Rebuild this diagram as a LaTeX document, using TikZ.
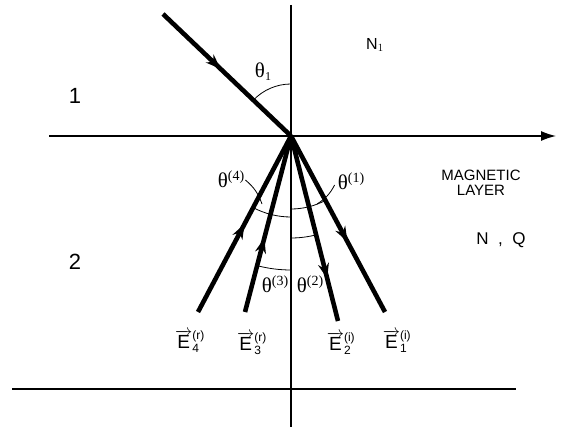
\documentclass[tikz,border=0pt]{standalone}
\usepackage{fontspec}
\setmainfont{Liberation Sans}
\newfontfamily\grk{Liberation Serif}
\usetikzlibrary{arrows.meta,decorations.markings}
\newcommand{\supsz}{\fontsize{12}{13}\selectfont}
\newcommand{\thsup}[1]{{\grk θ\raisebox{7pt}{\fontsize{14}{15}\selectfont(#1)}}}
\tikzset{
  ray/.style={line width=4.6pt},
  thin/.style={line width=1.3pt},
  arc/.style={line width=0.8pt},
  midarrow/.style={postaction={decorate},decoration={markings,
     mark=at position #1 with {\arrow{Stealth[length=15pt,width=11pt]}}}},
  lbl/.style={font=\fontsize{16}{18}\selectfont, inner sep=0pt},
  mg/.style={font=\fontsize{15}{17}\selectfont, inner sep=0pt},
  nq/.style={font=\fontsize{17}{19}\selectfont, inner sep=0pt},
  big/.style={font=\fontsize{22}{24}\selectfont, inner sep=0pt},
  thl/.style={font=\fontsize{21}{23}\selectfont, inner sep=0pt},
  elbl/.style={font=\fontsize{19}{21}\selectfont, inner sep=0pt}
}
\begin{document}
\begin{tikzpicture}[x=1pt,y=-1pt]
\useasboundingbox (0,0) rectangle (569,427);
% axes
\coordinate (O) at (291,136);
\coordinate (Vt) at (291,5);
\coordinate (Vb) at (291,427);
\coordinate (Hl) at (49,136);
\coordinate (Hr) at (556,136);
\coordinate (Bl) at (12,389);
\coordinate (Br) at (516,389);
\draw[thin] (Vt) -- (Vb);
\draw[thin,-{Latex[length=15pt,width=10pt]}] (Hl) -- (Hr);
\draw[thin] (Bl) -- (Br);
% ray ends
\coordinate (S) at (163,14);
\coordinate (E1) at (385,312);
\coordinate (E2) at (338,321);
\coordinate (E3) at (245,312);
\coordinate (E4) at (198,312);
% arcs
\draw[arc] (O) ++(270:52) arc[start angle=270,end angle=223.6,radius=52];
\draw[arc] (O) ++(90:73) arc[start angle=90,end angle=61.9,radius=73];
\draw[arc] (O) ++(117.9:81) arc[start angle=117.9,end angle=90,radius=81];
\draw[arc] (O) ++(90:102) arc[start angle=90,end angle=75.7,radius=102];
\draw[arc] (O) ++(104.6:134) arc[start angle=104.6,end angle=90,radius=134];
% rays
\draw[ray,midarrow=0.45] (S) -- (O);
\draw[ray,midarrow=0.6] (O) -- (E1);
\draw[ray,midarrow=0.77] (O) -- (E2);
\draw[ray,midarrow=0.42] (E3) -- (O);
\draw[ray,midarrow=0.5] (E4) -- (O);
% labels
\node[thl] (t1) at (263,72) {{\grk θ\raisebox{-3pt}{\fontsize{12}{13}\selectfont 1}}};
\node[lbl] (N1) at (375,45) {N$_1$};
\node[big] (one) at (75,96) {1};
\node[big] (two) at (75,262) {2};
\node[mg,align=center] (mag) at (481,183) {MAGNETIC\\[-2pt]LAYER};
\node[nq] (NQ) at (501,240) {N\ \ ,\ \ Q};
\node[thl] (th1) at (351,181) {\thsup{1}};
\node[thl] (th4) at (231,179) {\thsup{4}};
\node[thl] (th3) at (275,284) {\thsup{3}};
\node[thl] (th2) at (310,284) {\thsup{2}};
\coordinate (l1) at (317,204);
\coordinate (l4) at (262,204);
\draw[arc] (th1.west) ++(-3,4) to[bend left=15] (l1);
\draw[arc] (th4.east) ++(1,1) to[bend left=15] (l4);
\node[elbl] (L4) at (190,341) {$\overrightarrow{\mbox{E}}{}^{\mbox{\supsz(r)}}_{\mbox{\supsz 4}}$};
\node[elbl] (L3) at (252,343) {$\overrightarrow{\mbox{E}}{}^{\mbox{\supsz(r)}}_{\mbox{\supsz 3}}$};
\node[elbl] (L2) at (341,343) {$\overrightarrow{\mbox{E}}{}^{\mbox{\supsz(i)}}_{\mbox{\supsz 2}}$};
\node[elbl] (L1) at (397,341) {$\overrightarrow{\mbox{E}}{}^{\mbox{\supsz(i)}}_{\mbox{\supsz 1}}$};
\end{tikzpicture}
\end{document}
